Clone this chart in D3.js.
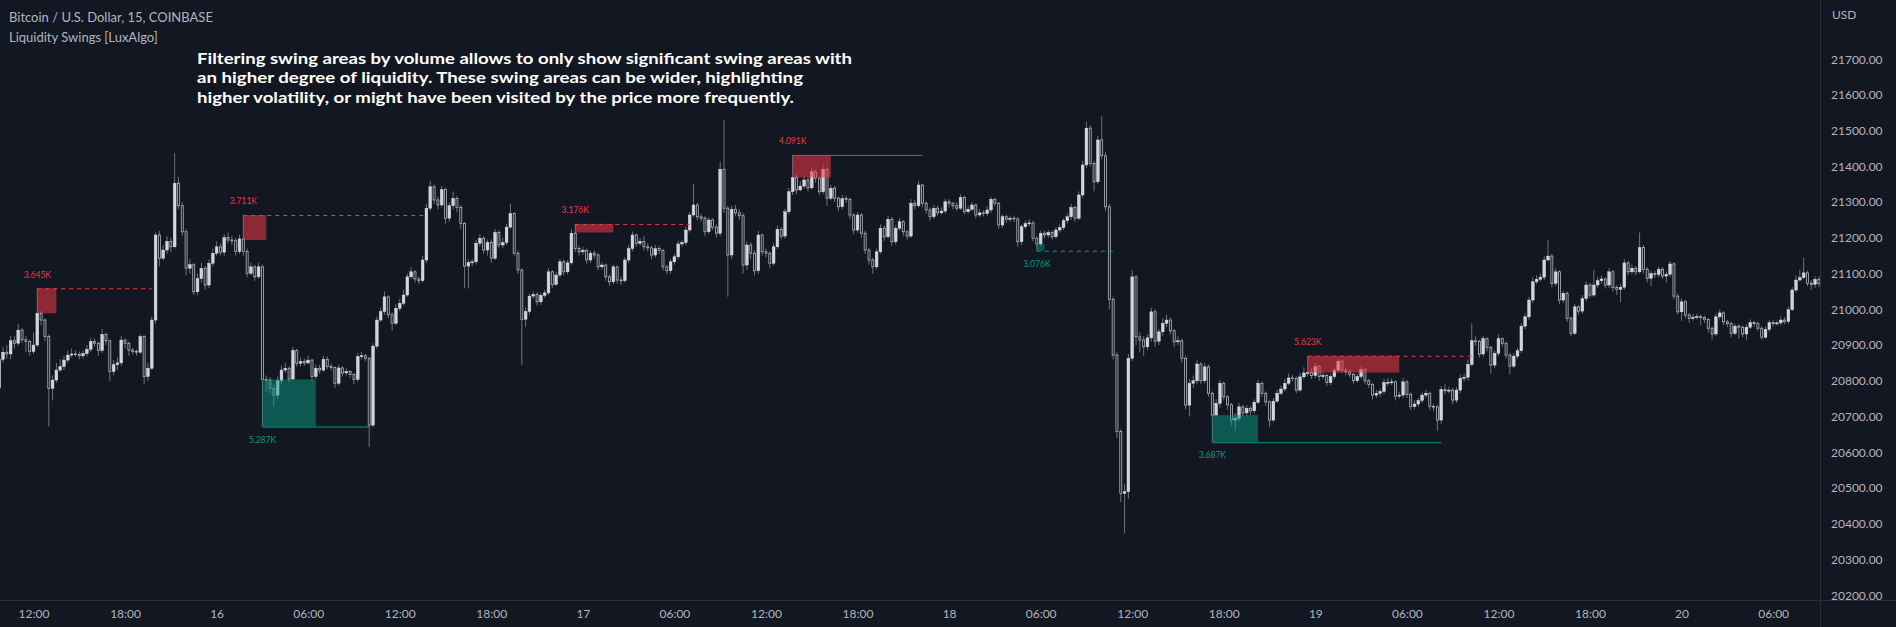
<!DOCTYPE html>
<html><head><meta charset="utf-8">
<script src="https://cdn.jsdelivr.net/npm/d3@7"></script>
<style>html,body{margin:0;padding:0;background:#131722;overflow:hidden}</style>
</head><body><svg id="c" width="1896" height="627"></svg>
<script>
// ---- DATA (15-minute BTC/USD candles, COINBASE) ----
const firstOpen = 20780;
const closes = [
20860,20880,20875,20912,20905,20942,20915,20910,20882,20900,
20989,20970,20924,20779,20802,20830,20840,20858,20872,20875,
20874,20870,20876,20888,20910,20905,20885,20930,20912,20826,
20845,20850,20914,20905,20886,20882,20880,20924,20812,20835,
20970,21208,21143,21166,21190,21175,21353,21290,21217,21115,
21125,21049,21086,21115,21068,21129,21157,21175,21160,21201,
21194,21192,21162,21197,21162,21101,21119,21091,21119,20804,
20802,20779,20760,20800,20830,20835,20805,20885,20849,20854,
20850,20858,20812,20835,20830,20860,20840,20837,20793,20836,
20822,20826,20818,20804,20868,20870,20863,20676,20897,20970,
20994,21035,20985,20961,21003,21017,21040,21091,21105,21085,
21080,21138,21283,21343,21306,21292,21335,21255,21290,21310,
21285,21240,21121,21131,21133,21185,21199,21166,21187,21143,
21215,21180,21187,21230,21268,21157,21110,20972,20994,21037,
21042,21021,21039,21046,21105,21070,21096,21133,21105,21130,
21213,21170,21161,21165,21138,21157,21152,21119,21124,21091,
21077,21119,21082,21080,21138,21170,21208,21185,21190,21175,
21172,21152,21170,21165,21119,21108,21133,21147,21183,21187,
21222,21264,21292,21259,21255,21217,21250,21230,21213,21392,
21283,21152,21280,21270,21262,21124,21180,21157,21108,21208,
21161,21157,21129,21175,21224,21205,21273,21329,21369,21334,
21345,21362,21340,21385,21367,21329,21392,21311,21339,21311,
21287,21310,21308,21264,21222,21264,21213,21166,21138,21119,
21161,21227,21203,21252,21189,21227,21245,21217,21205,21297,
21290,21348,21297,21278,21259,21283,21270,21275,21301,21297,
21290,
21283,21313,21273,21280,21292,21264,21270,21268,21278,21308,
21297,21236,21259,21252,21255,21253,21189,21231,21240,21242,
21199,21183,21213,21208,21215,21203,21222,21229,21248,21259,
21285,21255,21320,21404,21507,21408,21357,21474,21430,21287,
21028,20872,20658,20485,20490,20863,21091,20923,20914,20895,
20920,20993,20911,20937,20961,20970,20940,20909,20912,20863,
20732,20793,20800,20847,20800,20839,20765,20704,20737,20793,
20755,20733,20690,20695,20727,20710,20723,20716,20740,20793,
20765,20741,20690,20743,20765,20777,20793,20808,20807,20774,
20811,20822,20823,20815,20840,20812,20815,20795,20812,20830,
20855,20830,20825,20818,20800,20812,20831,20800,20790,20760,
20765,20770,20795,20796,
20797,20757,20760,20797,20762,
20728,20735,20745,20760,20765,20728,20727,20690,20776,20772,
20774,20746,20774,20807,20810,20846,20912,20910,20875,20918,
20893,20844,20877,20918,20905,20872,20841,20869,20884,20953,
20979,21026,21077,21084,21090,21138,21149,21073,21105,21026,
21045,20975,20933,21007,20995,21030,21068,21040,21068,21080,
21085,21068,21105,21061,21056,21062,21130,21105,21115,21105,
21173,21112,21087,21100,21097,21112,21093,21098,21127,21037,
20993,21021,20984,20975,20978,20980,20977,20972,20947,20931,
20979,20990,20965,20960,20933,20953,20950,20931,20950,20963,
20960,20947,20922,20944,20963,20960,20962,20970,20966,20999,
21054,21082,21089,21102,21073,21070,21084,21072];
const highs = [
20885,20895,20900,20925,20925,20960,20948,20925,20915,20935,
21059,20995,20975,20930,20815,20850,20860,20870,20885,20890,
20885,20882,20885,20900,20920,20918,20910,20945,20935,20915,
20858,20866,20925,20918,20910,20892,20888,20930,20928,20850,
20980,21215,21220,21180,21205,21200,21437,21370,21300,21225,
21140,21130,21100,21130,21122,21140,21170,21190,21185,21210,
21215,21205,21200,21208,21264,21170,21130,21125,21130,21125,
20815,20810,20790,20812,20842,20850,20840,20895,20890,20865,
20862,20870,20862,20845,20845,20870,20868,20848,20840,20845,
20840,20835,20830,20822,20878,20880,20875,20868,20905,20980,
21005,21050,21040,20992,21015,21030,21055,21100,21118,21110,
21092,21150,21295,21360,21350,21315,21345,21340,21300,21330,
21318,21292,21245,21140,21140,21195,21210,21205,21195,21195,
21225,21222,21200,21240,21296,21272,21165,21115,21005,21045,
21050,21048,21046,21055,21115,21110,21105,21142,21140,21138,
21225,21239,21178,21175,21170,21165,21165,21158,21132,21128,
21098,21125,21122,21092,21145,21180,21218,21212,21200,21205,
21185,21178,21180,21178,21170,21125,21140,21155,21192,21195,
21232,21272,21352,21298,21268,21262,21258,21255,21238,21413,
21530,21290,21290,21292,21280,21270,21190,21188,21165,21220,
21212,21170,21162,21185,21235,21230,21282,21340,21432,21378,
21358,21375,21370,21398,21392,21372,21405,21398,21348,21345,
21316,21320,21318,21312,21270,21272,21270,21220,21172,21145,
21170,21238,21235,21262,21258,21235,21255,21250,21222,21308,
21305,21360,21352,21302,21285,21292,21290,21285,21310,21308,
21300,
21300,21322,21318,21290,21300,21296,21280,21278,21288,21315,
21312,21300,21265,21265,21262,21262,21258,21238,21248,21252,
21248,21205,21220,21220,21222,21220,21230,21238,21255,21268,
21295,21290,21330,21415,21525,21515,21415,21485,21540,21440,
21295,21035,20880,20665,20510,20875,21110,21095,20935,20925,
20930,21005,21000,20945,20975,20985,20978,20945,20925,20918,
20870,20805,20815,20858,20852,20850,20845,20770,20748,20802,
20798,20760,20738,20710,20738,20732,20732,20730,20748,20802,
20798,20770,20745,20752,20775,20786,20805,20820,20816,20812,
20822,20838,20870,20835,20850,20845,20825,20820,20820,20838,
20862,20860,20838,20832,20822,20820,20840,20836,20806,20795,
20775,20778,20805,20808,
20806,20802,20770,20808,20802,
20768,20745,20752,20768,20775,20770,20736,20732,20785,20790,
20782,20780,20782,20818,20820,20860,20961,20925,20915,20926,
20922,20898,20885,20930,20922,20910,20878,20878,20892,20962,
20988,21035,21090,21095,21100,21148,21195,21155,21115,21110,
21052,21050,20980,21015,21012,21040,21078,21074,21110,21090,
21095,21090,21115,21110,21068,21072,21140,21135,21125,21122,
21215,21180,21118,21108,21108,21120,21118,21106,21135,21132,
21045,21030,21026,20990,20988,20988,20985,20982,20975,20952,
20988,21000,20995,20970,20965,20960,20958,20955,20958,20972,
20968,20966,20952,20952,20970,20970,20968,20980,20978,21008,
21062,21095,21110,21145,21108,21082,21092,21092];
const lows = [
20760,20850,20862,20860,20890,20898,20905,20880,20870,20875,
20895,20955,20910,20672,20745,20795,20825,20830,20850,20865,
20868,20860,20862,20868,20880,20895,20870,20878,20900,20800,
20815,20830,20842,20890,20870,20874,20870,20875,20790,20800,
20830,20960,21120,21138,21155,21160,21170,21280,21205,21095,
21100,21040,21040,21075,21055,21060,21120,21150,21150,21150,
21185,21180,21150,21155,21150,21090,21095,21080,21085,20672,
20770,20765,20728,20750,20790,20822,20795,20800,20840,20840,
20842,20845,20800,20805,20820,20825,20832,20828,20780,20788,
20812,20815,20808,20790,20798,20860,20855,20615,20670,20890,
20965,20985,20975,20940,20955,20995,21010,21035,21085,21075,
21070,21075,21130,21275,21295,21280,21285,21240,21245,21280,
21272,21225,21059,21059,21120,21125,21175,21155,21150,21130,
21138,21170,21172,21180,21225,21150,21100,20844,20950,20985,
21030,21010,21012,21032,21040,21060,21065,21088,21095,21098,
21125,21160,21150,21152,21128,21130,21142,21110,21112,21080,
21065,21070,21072,21068,21075,21130,21162,21175,21178,21165,
21162,21140,21145,21155,21108,21098,21100,21125,21140,21175,
21180,21215,21258,21250,21245,21205,21210,21222,21200,21205,
21270,21035,21140,21260,21250,21100,21110,21140,21095,21100,
21150,21145,21115,21122,21168,21195,21198,21265,21320,21322,
21330,21338,21330,21335,21355,21320,21322,21290,21305,21300,
21275,21280,21298,21252,21210,21215,21200,21155,21125,21100,
21112,21155,21192,21198,21178,21182,21220,21205,21195,21200,
21280,21285,21285,21268,21248,21252,21262,21265,21268,21285,
21280,
21275,21278,21265,21268,21275,21255,21258,21260,21262,21270,
21288,21225,21228,21242,21245,21244,21175,21180,21225,21232,
21190,21164,21178,21198,21200,21195,21198,21215,21222,21240,
21250,21245,21250,21312,21395,21400,21330,21350,21420,21275,
21000,20860,20640,20460,20373,20470,20855,20900,20880,20870,
20885,20910,20895,20900,20925,20950,20930,20895,20900,20850,
20720,20700,20780,20790,20790,20792,20755,20628,20700,20725,
20745,20720,20675,20660,20685,20700,20702,20705,20708,20735,
20755,20730,20670,20685,20738,20760,20770,20788,20798,20765,
20768,20805,20812,20805,20808,20800,20805,20785,20788,20805,
20825,20822,20815,20810,20792,20795,20805,20790,20780,20748,
20752,20755,20762,20785,
20788,20745,20750,20752,20752,
20718,20720,20728,20738,20752,20718,20715,20660,20680,20762,
20765,20735,20738,20765,20798,20800,20840,20898,20865,20868,
20882,20820,20835,20870,20895,20862,20818,20835,20862,20878,
20945,20970,21018,21070,21078,21082,21135,21062,21065,21015,
21018,20965,20925,20928,20985,20988,21022,21032,21035,21060,
21072,21058,21060,21050,21040,21020,21055,21095,21098,21095,
21100,21100,21075,21065,21088,21090,21085,21075,21090,21028,
20985,20968,20975,20962,20968,20972,20955,20962,20935,20915,
20925,20972,20955,20950,20922,20928,20918,20922,20915,20945,
20950,20940,20915,20918,20938,20952,20955,20955,20958,20960,
20995,21048,21078,21085,21065,21055,21060,21062];

const timeTickIndex = [9,33,57,81,105,129,153,177,201,225,249,273,297,321,345,369,393,417,441,465];
const timeTickLabels = ["12:00","18:00","16","06:00","12:00","18:00","17","06:00","12:00","18:00","18","06:00","12:00","18:00","19","06:00","12:00","18:00","20","06:00"];
const priceTicks = [20200,20300,20400,20500,20600,20700,20800,20900,21000,21100,21200,21300,21400,21500,21600,21700];

// liquidity swing areas
const swingKind   = ["high","high","low","high","high","low","low","high"];
const swingStart  = [10, 64, 69, 151, 208, 272, 318, 343];
const swingBoxEnd = [15, 70, 83, 161, 218, 274, 330, 367];
const swingLineEnd= [40, 112, 97, 181, 242, 292, 378, 386];
const swingTop    = [21059, 21264, 20804, 21239, 21432, 21183, 20704, 20870];
const swingBottom = [20989, 21194, 20672, 21215, 21369, 21164, 20628, 20823];
const swingVolume = ["3.645K","3.711K","5.287K","3.176K","4.091K","3.076K","3.687K","5.623K"];
const swingDashed = [true, true, false, true, false, true, false, true];

const noteLines = [
 "Filtering swing areas by volume allows to only show significant swing areas with",
 "an higher degree of liquidity. These swing areas can be wider, highlighting",
 "higher volatility, or might have been visited by the price more frequently."
];

// ---- DRAW ----
const W = 1896, H = 627, plotW = 1820, plotH = 600;
const BG = "#131722";
const svg = d3.select("#c");
svg.append("rect").attr("width", W).attr("height", H).attr("fill", BG);

const n = closes.length;
const x = d3.scaleLinear().domain([0, n - 1]).range([-0.84, -0.84 + (n - 1) * 3.815]);
const y = d3.scaleLinear().domain([20200, 21700]).range([595.2, 59.2]);

const candles = closes.map((c, i) => ({
  i, o: i === 0 ? firstOpen : closes[i - 1], c, h: highs[i], l: lows[i]
}));

svg.append("defs").append("clipPath").attr("id", "plot")
  .append("rect").attr("x", 0).attr("y", 0).attr("width", plotW).attr("height", plotH);
const plot = svg.append("g").attr("clip-path", "url(#plot)");

// wicks
plot.append("g").selectAll("line").data(candles).join("line")
  .attr("x1", d => x(d.i)).attr("x2", d => x(d.i))
  .attr("y1", d => y(d.h)).attr("y2", d => y(d.l))
  .attr("stroke", "#6f727c").attr("stroke-width", 1);

// bodies: up = filled, down = hollow
const bodies = plot.append("g");
bodies.selectAll("rect.up").data(candles.filter(d => d.c >= d.o)).join("rect")
  .attr("class", "up")
  .attr("x", d => x(d.i) - 1.4).attr("width", 2.8)
  .attr("y", d => y(d.c)).attr("height", d => Math.max(1, y(d.o) - y(d.c)))
  .attr("fill", "#d1d4dc").attr("stroke", "#e6e8ee").attr("stroke-width", 0.4);
bodies.selectAll("rect.dn").data(candles.filter(d => d.c < d.o)).join("rect")
  .attr("class", "dn")
  .attr("x", d => x(d.i) - 1.0).attr("width", 2.0)
  .attr("y", d => y(d.o)).attr("height", d => Math.max(0.6, y(d.c) - y(d.o)))
  .attr("fill", BG).attr("stroke", "#b4b7bf").attr("stroke-width", 0.8);

// swing areas
const swings = swingKind.map((k, j) => ({
  k, s: swingStart[j], e: swingBoxEnd[j], le: swingLineEnd[j],
  top: swingTop[j], bot: swingBottom[j], vol: swingVolume[j], dashed: swingDashed[j]
}));
const colOf = d => d.k === "high" ? "#f23645" : "#089981";
const sg = plot.append("g");
sg.selectAll("rect").data(swings).join("rect")
  .attr("x", d => x(d.s)).attr("width", d => x(d.e) - x(d.s))
  .attr("y", d => y(d.top)).attr("height", d => y(d.bot) - y(d.top))
  .attr("fill", colOf).attr("fill-opacity", d => d.k === "high" ? 0.55 : 0.5);
sg.selectAll("line").data(swings).join("line")
  .attr("x1", d => x(d.s)).attr("x2", d => x(d.le))
  .attr("y1", d => y(d.k === "high" ? d.top : d.bot) + 0.5)
  .attr("y2", d => y(d.k === "high" ? d.top : d.bot) + 0.5)
  .attr("stroke", colOf).attr("stroke-width", 1)
  .attr("stroke-dasharray", d => d.dashed ? "4,4" : null);
sg.selectAll("text").data(swings).join("text")
  .attr("x", d => x(d.s))
  .attr("y", d => d.k === "high" ? y(d.top) - 10.5 : y(d.bot) + 16)
  .attr("text-anchor", "middle")
  .attr("font-family", "Lato, 'Noto Sans', sans-serif").attr("font-size", 8.5)
  .attr("fill", colOf).text(d => d.vol);

// separators
svg.append("line").attr("x1", plotW + 0.5).attr("x2", plotW + 0.5).attr("y1", 0).attr("y2", H)
  .attr("stroke", "#2a2e39");
svg.append("line").attr("x1", 0).attr("x2", W).attr("y1", plotH + 0.5).attr("y2", plotH + 0.5)
  .attr("stroke", "#2a2e39");

// price axis
const yAxis = d3.axisRight(y).tickValues(priceTicks).tickFormat(d => d.toFixed(2)).tickSize(0).tickPadding(11);
const ya = svg.append("g").attr("transform", `translate(${plotW},0)`).call(yAxis);
ya.select(".domain").remove();
ya.selectAll("text").attr("fill", "#b2b5be").attr("font-size", 12)
  .attr("font-family", "Lato, 'Noto Sans', sans-serif");
svg.append("text").attr("x", 1832).attr("y", 19).attr("fill", "#b2b5be").attr("font-size", 12)
  .attr("font-family", "Lato, 'Noto Sans', sans-serif").text("USD");

// time axis
const xAxis = d3.axisBottom(x).tickValues(timeTickIndex).tickFormat((d, i) => timeTickLabels[i]).tickSize(0).tickPadding(9);
const xa = svg.append("g").attr("transform", `translate(0,${plotH})`).call(xAxis);
xa.select(".domain").remove();
xa.selectAll("text").attr("fill", "#b2b5be").attr("font-size", 12)
  .attr("font-family", "Lato, 'Noto Sans', sans-serif");

// legend
svg.append("text").attr("x", 9).attr("y", 21.5).attr("fill", "#b2b5be").attr("font-size", 13)
  .attr("font-family", "Lato, 'Noto Sans', sans-serif").text("Bitcoin / U.S. Dollar, 15, COINBASE");
svg.append("text").attr("x", 9).attr("y", 41.5).attr("fill", "#b2b5be").attr("font-size", 13)
  .attr("font-family", "Lato, 'Noto Sans', sans-serif").text("Liquidity Swings [LuxAlgo]");

// note
const noteW = [655, 606, 597];
svg.append("g").selectAll("text").data(noteLines).join("text")
  .attr("x", 197).attr("y", (d, i) => 64 + i * 19.4)
  .attr("fill", "#ffffff").attr("font-size", 16).attr("font-weight", "bold")
  .attr("font-family", "Lato, 'Noto Sans', sans-serif")
  .attr("textLength", (d, i) => noteW[i]).attr("lengthAdjust", "spacingAndGlyphs")
  .text(d => d);
</script>
</body></html>
